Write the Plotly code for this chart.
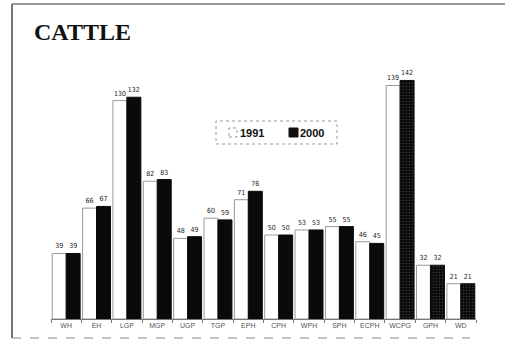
import plotly.graph_objects as go

categories = ["WH", "EH", "LGP", "MGP", "UGP", "TGP", "EPH", "CPH", "WPH", "SPH", "ECPH", "WCPG", "GPH", "WD"]
values_1991 = [39, 66, 130, 82, 48, 60, 71, 50, 53, 55, 46, 139, 32, 21]
values_2000 = [39, 67, 132, 83, 49, 59, 76, 50, 53, 55, 45, 142, 32, 21]
texture_2000 = ["", "", "", "", "", "", "", "", "", "", "", ".", ".", "."]
legend_names = ["1991", "2000"]

W, H = 507, 340
ml, mr, mt, mb = 51, 31, 70, 21
plot_w = W - ml - mr
plot_h = H - mt - mb
ymax = plot_h / 1.68

label_font = dict(size=7, color="#1a1a1a", family="DejaVu Sans Condensed, Liberation Sans")

fig = go.Figure()
fig.add_trace(go.Bar(
    x=categories, y=values_1991, name=legend_names[0],
    marker=dict(color="white", line=dict(color="#9a9a9a", width=1)),
    text=[str(v) for v in values_1991], textposition="outside",
    textfont=label_font, cliponaxis=False,
))
fig.add_trace(go.Bar(
    x=categories, y=values_2000, name=legend_names[1],
    marker=dict(color="#0a0a0a", line=dict(color="#0a0a0a", width=1),
                pattern=dict(shape=texture_2000, fgcolor="#6a6a6a", size=3, solidity=0.2, fillmode="overlay")),
    text=[str(v) for v in values_2000], textposition="outside",
    textfont=label_font, cliponaxis=False,
))

fig.update_layout(
    width=W, height=H,
    margin=dict(l=ml, r=mr, t=mt, b=mb, autoexpand=False),
    paper_bgcolor="white", plot_bgcolor="white",
    barmode="group", bargap=0.08, bargroupgap=0.0,
    showlegend=False,
    xaxis=dict(showgrid=False, showline=True, linecolor="#777", linewidth=1,
               ticks="outside", ticklen=3, tickcolor="#777", tickson="boundaries",
               tickangle=0, automargin=False,
               tickfont=dict(family="Liberation Sans, Arial", size=7, color="#555")),
    yaxis=dict(range=[0, ymax], showgrid=False, showline=False, showticklabels=False,
               zeroline=False, ticks="", automargin=False),
    font=dict(family="Liberation Sans, Arial"),
)


def px_x(x):
    return (x - ml) / plot_w


def px_y(y):
    return (H - mb - y) / plot_h


# Title
fig.add_annotation(text="<b>CATTLE</b>", xref="paper", yref="paper",
                   x=px_x(32), y=px_y(17),
                   xanchor="left", yanchor="top", showarrow=False,
                   font=dict(family="Liberation Serif, Times New Roman", size=24, color="#111"))

# Manual legend with dashed frame
fig.add_shape(type="rect", xref="paper", yref="paper",
              x0=px_x(216), x1=px_x(337), y0=px_y(144), y1=px_y(121),
              line=dict(color="#999", width=1, dash="dot"))
fig.add_shape(type="rect", xref="paper", yref="paper",
              x0=px_x(229), x1=px_x(237), y0=px_y(137), y1=px_y(128),
              line=dict(color="#999", width=1, dash="dot"), fillcolor="white")
fig.add_shape(type="rect", xref="paper", yref="paper",
              x0=px_x(289), x1=px_x(298), y0=px_y(137), y1=px_y(128),
              line=dict(color="#111", width=1), fillcolor="#111")
fig.add_annotation(text="<b>" + legend_names[0] + "</b>", xref="paper", yref="paper",
                   x=px_x(238), y=px_y(133), xanchor="left", yanchor="middle", showarrow=False,
                   font=dict(family="Liberation Sans, Arial", size=11, color="#111"))
fig.add_annotation(text="<b>" + legend_names[1] + "</b>", xref="paper", yref="paper",
                   x=px_x(298), y=px_y(133), xanchor="left", yanchor="middle", showarrow=False,
                   font=dict(family="Liberation Sans, Arial", size=11, color="#111"))

# Page frame lines (scan border)
fig.add_shape(type="line", xref="paper", yref="paper",
              x0=px_x(12), x1=px_x(12), y0=px_y(338), y1=px_y(4),
              line=dict(color="#444", width=1.5))
fig.add_shape(type="line", xref="paper", yref="paper",
              x0=px_x(12), x1=px_x(505), y0=px_y(4), y1=px_y(4),
              line=dict(color="#777", width=1.5))
fig.add_shape(type="line", xref="paper", yref="paper",
              x0=px_x(12), x1=px_x(470), y0=px_y(338), y1=px_y(338),
              line=dict(color="#888", width=1, dash="dash"))

fig.write_html("out.html")
